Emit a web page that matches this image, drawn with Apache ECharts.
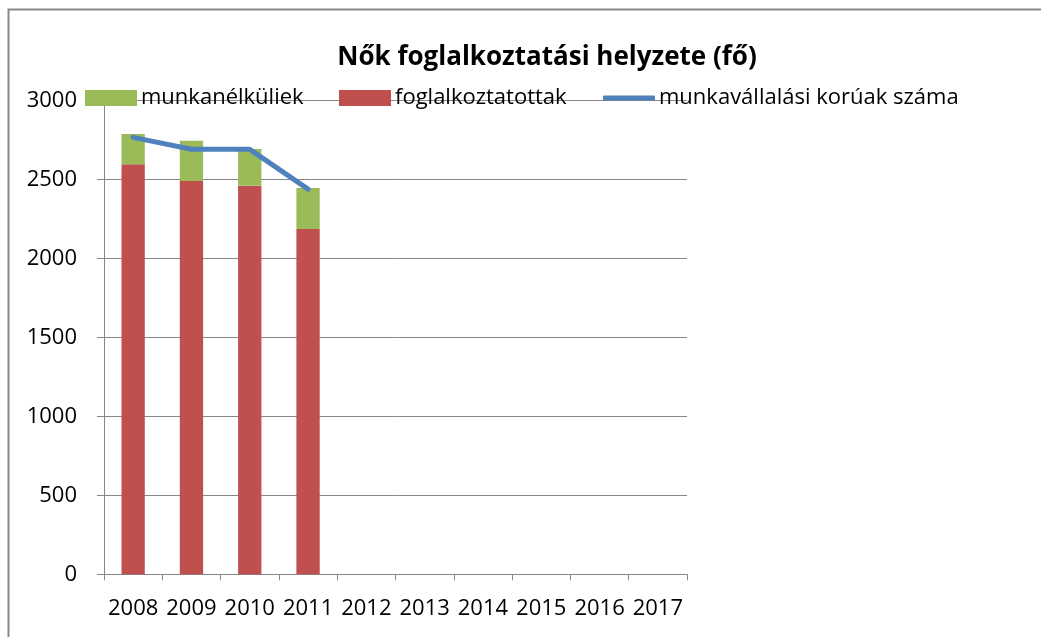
<!DOCTYPE html>
<html>
<head>
<meta charset="utf-8">
<script src="https://cdn.jsdelivr.net/npm/echarts@6/dist/echarts.min.js"></script>
<style>
html, body { margin: 0; padding: 0; background: #fff; }
#chart { width: 1041px; height: 637px; }
</style>
</head>
<body>
<div id="chart"></div>
<script>
var years = ['2008', '2009', '2010', '2011', '2012', '2013', '2014', '2015', '2016', '2017']
var foglalkoztatottak = [2597, 2492, 2462, 2187, null, null, null, null, null, null]
var munkanelkuliek = [192, 255, 232, 260, null, null, null, null, null, null]
var munkavallalasiKoruak = [2768, 2692, 2692, 2440, null, null, null, null, null, null]
var yTicks = [0, 500, 1000, 1500, 2000, 2500, 3000]

var font = '"Open Sans", "Noto Sans", sans-serif'
var gray = '#878787'

var chart = echarts.init(document.getElementById('chart'))

function legendAt(left, name, icon, h) {
    return {
        left: left,
        top: 82,
        icon: icon,
        itemWidth: 52,
        itemHeight: h,
        itemGap: 0,
        selectedMode: false,
        data: [name],
        textStyle: { fontFamily: font, fontSize: 22, color: '#000', padding: [0, 0, 0, -1] }
    }
}

var option = {
    backgroundColor: '#fff',
    animation: false,
    title: {
        text: 'Nők foglalkoztatási helyzete (fő)',
        left: 542,
        textAlign: 'center',
        top: 40,
        textStyle: { fontFamily: font, fontSize: 26, fontWeight: 'bold', color: '#000' }
    },
    legend: [
        legendAt(80, 'munkanélküliek', 'rect', 16),
        legendAt(334, 'foglalkoztatottak', 'rect', 16),
        legendAt(598, 'munkavállalási korúak száma', 'roundRect', 5)
    ],
    grid: {
        left: 104,
        right: 354,
        top: 100.7,
        bottom: 62.7
    },
    xAxis: {
        type: 'category',
        data: years,
        boundaryGap: true,
        axisLine: { show: true, lineStyle: { color: gray, width: 1 } },
        axisTick: { show: true, length: 6, alignWithLabel: false, lineStyle: { color: gray } },
        axisLabel: { margin: 23, fontFamily: font, fontSize: 22, color: '#000', interval: 0 },
        splitLine: { show: false }
    },
    yAxis: {
        type: 'value',
        min: yTicks[0],
        max: yTicks[yTicks.length - 1],
        interval: 500,
        axisLine: { show: true, lineStyle: { color: gray, width: 1 } },
        axisTick: { show: true, length: 7, lineStyle: { color: gray } },
        axisLabel: {
            margin: 27,
            fontFamily: font,
            fontSize: 22,
            color: '#000',
            formatter: function (v) { return String(v) }
        },
        splitLine: { show: true, lineStyle: { color: gray, width: 1 } }
    },
    graphic: [
        {
            type: 'rect',
            shape: { x: 8.5, y: 9.5, width: 1100, height: 700 },
            style: { fill: 'none', stroke: '#888', lineWidth: 2 },
            silent: true,
            z: -1
        }
    ],
    series: [
        {
            name: 'foglalkoztatottak',
            type: 'bar',
            stack: 'total',
            barWidth: '40%',
            data: foglalkoztatottak,
            itemStyle: { color: '#C0504D' }
        },
        {
            name: 'munkanélküliek',
            type: 'bar',
            stack: 'total',
            barWidth: '40%',
            data: munkanelkuliek,
            itemStyle: { color: '#9BBB59' }
        },
        {
            name: 'munkavállalási korúak száma',
            type: 'line',
            data: munkavallalasiKoruak,
            symbol: 'none',
            lineStyle: { color: '#4F81BD', width: 5, cap: 'round', join: 'round' },
            itemStyle: { color: '#4F81BD' },
            z: 5
        }
    ]
}
chart.setOption(option)
</script>
</body>
</html>
